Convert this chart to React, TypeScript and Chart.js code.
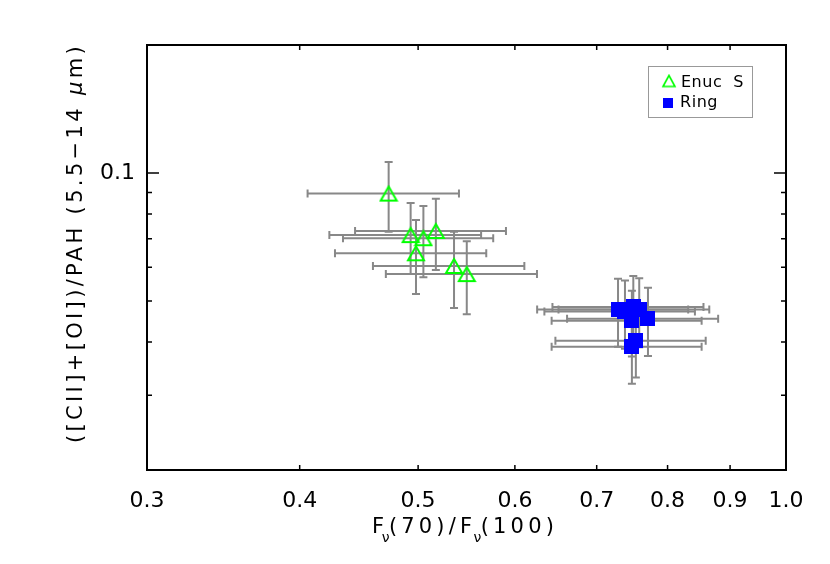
import { useEffect, useRef } from 'react';
import { Chart, registerables } from 'chart.js';

Chart.register(...registerables);

// ---------- data ----------
const seriesNames = ['Enuc S', 'Ring'];
const xTickValues = [0.3, 0.4, 0.5, 0.6, 0.7, 0.8, 0.9, 1.0];
const yTickValues = [0.03, 0.04, 0.05, 0.06, 0.07, 0.08, 0.09, 0.1];
const yLabelledTicks = [0.1];
const xRange = [0.3, 1.0];
const yRange = [0.02, 0.2];

const enucX = [0.473, 0.517, 0.493, 0.505, 0.498, 0.535, 0.548];
const enucY = [0.0894, 0.073, 0.0714, 0.0702, 0.0647, 0.0604, 0.0578];
const enucXErr = [0.067, 0.073, 0.07, 0.071, 0.0705, 0.0758, 0.0775];
const enucYErr = [0.0167, 0.0139, 0.0136, 0.0134, 0.0128, 0.0123, 0.0113];

const ringX = [0.7287, 0.7383, 0.75, 0.7584, 0.771, 0.748, 0.7536, 0.748];
const ringY = [0.0477, 0.0472, 0.0484, 0.0477, 0.0454, 0.0449, 0.0403, 0.039];
const ringXErr = [0.103, 0.104, 0.106, 0.107, 0.109, 0.105, 0.106, 0.105];
const ringYErr = [0.0087, 0.0086, 0.0088, 0.0088, 0.0083, 0.0079, 0.0073, 0.0071];

const xTitle = ['F', 'ν', '(70)/F', 'ν', '(100)'];
const yTitle = '([CII]+[OI])/PAH (5.5−14 ';
const yTitleMu = 'μ';
const yTitleEnd = 'm)';

const FONT = '"DejaVu Sans", sans-serif';
const GREEN = '#00ff00';
const BLUE = '#0000ff';
const GREY = '#888888';

function makeTriangle(w: number, h: number, lw: number) {
  const c = document.createElement('canvas');
  c.width = w + 4;
  c.height = h + 4;
  const g = c.getContext('2d')!;
  g.strokeStyle = GREEN;
  g.lineWidth = lw;
  g.lineJoin = 'miter';
  g.beginPath();
  g.moveTo(c.width / 2, 2);
  g.lineTo(2, 2 + h);
  g.lineTo(2 + w, 2 + h);
  g.closePath();
  g.stroke();
  return c;
}

function makeSquare(s: number) {
  const c = document.createElement('canvas');
  c.width = s;
  c.height = s;
  const g = c.getContext('2d')!;
  g.fillStyle = BLUE;
  g.fillRect(0, 0, s, s);
  return c;
}

type Piece = { t: string; size: number; dy: number; italic?: boolean; adv?: number };

function piecesWidth(ctx: CanvasRenderingContext2D, pieces: Piece[], spacing: number) {
  let w = 0;
  for (const p of pieces) {
    ctx.font = `${p.italic ? 'italic ' : ''}${p.size}px ${FONT}`;
    const m = ctx.measureText(p.t).width + spacing * p.t.length;
    w += m * (p.adv ?? 1);
  }
  return w;
}

function drawPieces(ctx: CanvasRenderingContext2D, pieces: Piece[], x: number, y: number, target: number) {
  ctx.save();
  (ctx as any).letterSpacing = '0px';
  const w0 = piecesWidth(ctx, pieces, 0);
  let n = 0;
  for (const p of pieces) n += p.t.length * (p.adv ?? 1);
  const sp = Math.max(0, (target - w0) / n);
  ctx.textAlign = 'left';
  ctx.textBaseline = 'alphabetic';
  let cx = x;
  for (const p of pieces) {
    ctx.font = `${p.italic ? 'italic ' : ''}${p.size}px ${FONT}`;
    (ctx as any).letterSpacing = '0px';
    const m = ctx.measureText(p.t).width + sp * p.t.length;
    (ctx as any).letterSpacing = `${sp}px`;
    ctx.fillText(p.t, cx, y + p.dy);
    cx += m * (p.adv ?? 1);
  }
  ctx.restore();
}

const decoPlugin = {
  id: 'deco',
  beforeDatasetsDraw(chart: any) {
    const ctx: CanvasRenderingContext2D = chart.ctx;
    const xs = chart.scales.x;
    const ys = chart.scales.y;
    const sets = [
      [enucX, enucY, enucXErr, enucYErr],
      [ringX, ringY, ringXErr, ringYErr],
    ];
    ctx.save();
    ctx.strokeStyle = GREY;
    ctx.lineWidth = 2;
    const cap = 4;
    for (const [X, Y, EX, EY] of sets) {
      for (let i = 0; i < X.length; i++) {
        const px = xs.getPixelForValue(X[i]);
        const py = ys.getPixelForValue(Y[i]);
        const x1 = xs.getPixelForValue(X[i] - EX[i]);
        const x2 = xs.getPixelForValue(X[i] + EX[i]);
        const y1 = ys.getPixelForValue(Y[i] - EY[i]);
        const y2 = ys.getPixelForValue(Y[i] + EY[i]);
        ctx.beginPath();
        ctx.moveTo(x1, py); ctx.lineTo(x2, py);
        ctx.moveTo(x1, py - cap); ctx.lineTo(x1, py + cap);
        ctx.moveTo(x2, py - cap); ctx.lineTo(x2, py + cap);
        ctx.moveTo(px, y1); ctx.lineTo(px, y2);
        ctx.moveTo(px - cap, y1); ctx.lineTo(px + cap, y1);
        ctx.moveTo(px - cap, y2); ctx.lineTo(px + cap, y2);
        ctx.stroke();
      }
    }
    ctx.restore();
  },
  afterDraw(chart: any) {
    const ctx: CanvasRenderingContext2D = chart.ctx;
    const a = chart.chartArea;
    const xs = chart.scales.x;
    const ys = chart.scales.y;
    ctx.save();
    // frame
    ctx.strokeStyle = '#000';
    ctx.lineWidth = 2;
    ctx.strokeRect(a.left, a.top, a.right - a.left, a.bottom - a.top);
    // ticks
    ctx.lineWidth = 1.5;
    ctx.beginPath();
    for (const v of xTickValues) {
      const px = xs.getPixelForValue(v);
      if (px <= a.left + 1 || px >= a.right - 1) continue;
      ctx.moveTo(px, a.bottom); ctx.lineTo(px, a.bottom - 5);
      ctx.moveTo(px, a.top); ctx.lineTo(px, a.top + 5);
    }
    for (const v of yTickValues) {
      const py = ys.getPixelForValue(v);
      const len = yLabelledTicks.includes(v) ? 12 : 5;
      ctx.moveTo(a.left, py); ctx.lineTo(a.left + len, py);
      ctx.moveTo(a.right, py); ctx.lineTo(a.right - len, py);
    }
    ctx.stroke();
    ctx.fillStyle = '#000';
    // x title
    drawPieces(ctx, [
      { t: xTitle[0], size: 21, dy: 0, adv: 0.6 },
      { t: xTitle[1], size: 14, dy: 9, adv: 0.6 },
      { t: xTitle[2], size: 21, dy: 0, adv: 0.97 },
      { t: xTitle[3], size: 14, dy: 9, adv: 0.6 },
      { t: xTitle[4], size: 21, dy: 0 },
    ], 372, 533, 186);
    // y title
    ctx.save();
    ctx.translate(82, 443);
    ctx.rotate(-Math.PI / 2);
    drawPieces(ctx, [
      { t: yTitle, size: 21, dy: 0 },
      { t: yTitleMu, size: 21, dy: 0, italic: true },
      { t: yTitleEnd, size: 21, dy: 0 },
    ], 0, 0, 400);
    ctx.restore();
    // legend
    ctx.strokeStyle = '#999';
    ctx.lineWidth = 1;
    ctx.strokeRect(648.5, 66.5, 104, 51);
    const tri = makeTriangle(12, 11, 1.6);
    ctx.drawImage(tri, 669 - tri.width / 2, 81 - tri.height / 2);
    ctx.fillStyle = BLUE;
    ctx.fillRect(663, 98, 10, 10);
    ctx.fillStyle = '#000';
    drawPieces(ctx, [{ t: seriesNames[0].replace(' ', '  '), size: 16, dy: 0 }], 681, 87, 63);
    drawPieces(ctx, [{ t: seriesNames[1], size: 16, dy: 0 }], 680, 107, 38);
    ctx.restore();
  },
};

export default function App() {
  const ref = useRef<HTMLCanvasElement>(null);
  useEffect(() => {
    const triImg = makeTriangle(16, 14, 2);
    const sqImg = makeSquare(15);
    const chart = new Chart(ref.current!, {
      type: 'scatter',
      data: {
        datasets: [
          {
            label: seriesNames[0],
            data: enucX.map((x, i) => ({ x, y: enucY[i] })),
            pointStyle: triImg as any,
            pointRadius: 8,
            backgroundColor: GREEN,
            borderColor: GREEN,
          },
          {
            label: seriesNames[1],
            data: ringX.map((x, i) => ({ x, y: ringY[i] })),
            pointStyle: sqImg as any,
            pointRadius: 8,
            backgroundColor: BLUE,
            borderColor: BLUE,
          },
        ],
      },
      options: {
        animation: false,
        responsive: false,
        events: [],
        layout: { padding: { top: 45, right: 44, left: 0, bottom: 0 } },
        plugins: { legend: { display: false }, tooltip: { enabled: false } },
        scales: {
          x: {
            type: 'logarithmic',
            min: xRange[0],
            max: xRange[1],
            grid: { display: false, drawTicks: false },
            border: { display: false },
            afterBuildTicks: (s: any) => { s.ticks = xTickValues.map((v) => ({ value: v })); },
            afterFit: (s: any) => { s.height = 94; },
            ticks: {
              autoSkip: false,
              maxRotation: 0,
              padding: 18,
              color: '#000',
              font: { family: FONT, size: 22 },
              callback: (v: any) => Number(v).toFixed(1),
            },
          },
          y: {
            type: 'logarithmic',
            min: yRange[0],
            max: yRange[1],
            grid: { display: false, drawTicks: false },
            border: { display: false },
            afterBuildTicks: (s: any) => { s.ticks = yTickValues.map((v) => ({ value: v })); },
            afterFit: (s: any) => { s.width = 147; },
            ticks: {
              autoSkip: false,
              padding: 12,
              color: '#000',
              font: { family: FONT, size: 22 },
              callback: (v: any) => (yLabelledTicks.some((t) => Math.abs(t - Number(v)) < 1e-9) ? '0.1' : ''),
            },
          },
        },
      },
      plugins: [decoPlugin],
    });
    return () => chart.destroy();
  }, []);
  return (
    <div style={{ position: 'fixed', left: 0, top: 0, width: 830, height: 564, background: '#fff' }}>
      <canvas ref={ref} width={830} height={564} style={{ width: 830, height: 564, display: 'block' }} />
    </div>
  );
}
